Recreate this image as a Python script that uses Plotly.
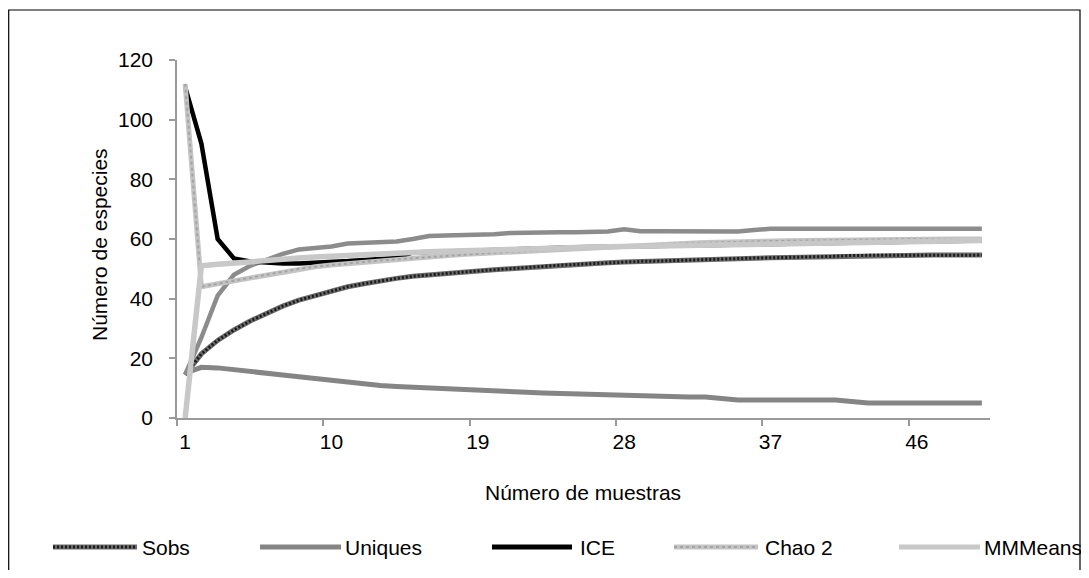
import plotly.graph_objects as go

muestras = list(range(1, 51))
tick_labels = [1, 10, 19, 28, 37, 46]

sobs = [14.5, 21.5, 26, 29.5, 32.5, 35, 37.5, 39.5, 41, 42.5,
        44, 45, 46, 46.8, 47.5, 48, 48.5, 49, 49.3, 49.7,
        50, 50.4, 50.8, 51.2, 51.5, 51.7, 52, 52.3, 52.5, 52.6,
        52.8, 53, 53.1, 53.3, 53.5, 53.6, 53.7, 53.8, 53.9, 54,
        54.2, 54.5, 54.5, 54.6, 54.6, 54.6, 54.6, 54.6, 54.6, 54.6]
uniques = [15, 17, 16.8, 16.3, 15.7, 15, 14.4, 13.8, 13.2, 12.5,
           11.8, 11.2, 10.9, 10.6, 10.3, 10, 9.7, 9.5, 9.2, 9,
           8.8, 8.6, 8.4, 8.2, 8, 7.8, 7.6, 7.4, 7.3, 7.2,
           7.1, 7, 7, 6.5, 6, 6, 6, 6, 6, 6,
           6, 5.5, 5, 5, 5, 5, 5, 5, 5, 5]
ice = [111, 92, 60, 53.5, 52.5, 52, 51.8, 51.8, 52, 52.3,
       52.6, 53, 53.3, 53.6, 55.5, 55.7, 55.9, 56.1, 56.3, 56.5,
       56.6, 56.8, 56.9, 57, 57.2, 57.3, 57.4, 57.5, 57.6, 57.8,
       57.9, 58, 58.1, 58.2, 58.3, 58.4, 58.5, 58.6, 58.7, 58.8,
       58.9, 59, 59.1, 59.2, 59.3, 59.3, 59.4, 59.4, 59.5, 59.5]
chao2 = [112, 44, 45, 46, 47, 48, 49, 50, 50.7, 51.3,
         51.8, 52.3, 52.8, 53.2, 53.6, 54, 54.4, 54.8, 55.1, 55.4,
         55.7, 56, 56.3, 56.6, 56.9, 57.2, 57.5, 57.8, 58, 58.2,
         58.4, 58.6, 58.8, 59, 59.1, 59.2, 59.3, 59.4, 59.5, 59.6,
         59.7, 59.8, 59.9, 60, 60, 60, 60, 60, 60, 60]
mmmeans = [0, 51, 51.5, 52, 52.5, 53, 53.3, 53.6, 54, 54.3,
           54.6, 54.9, 55.1, 55.3, 55.5, 55.7, 55.9, 56.1, 56.3, 56.5,
           56.6, 56.8, 56.9, 57, 57.2, 57.3, 57.4, 57.5, 57.6, 57.8,
           57.9, 58, 58.1, 58.2, 58.3, 58.4, 58.5, 58.6, 58.7, 58.8,
           58.9, 59, 59.1, 59.2, 59.3, 59.3, 59.4, 59.4, 59.5, 59.5]
serie_sup = [14.5, 27, 41, 48, 51, 53, 55, 56.5, 57, 57.5,
             58.5, 58.8, 58.8, 59.2, 60, 61, 61.2, 61.3, 61.4, 61.6,
             62, 62.2, 62.3, 62.3, 62.3, 62.4, 62.5, 63.3, 62.6, 62.6,
             62.6, 62.6, 62.6, 62.5, 62.5, 63, 63.4, 63.4, 63.4, 63.4,
             63.4, 63.4, 63.4, 63.4, 63.4, 63.4, 63.4, 63.4, 63.4, 63.4]

FONT = "Liberation Sans, Arial, sans-serif"
FS = 21

# the page has an 8px body margin; coordinates below are page pixels
OFF = 8
W, H = 1089 - 2 * OFF, 578 - 2 * OFF
L, R, T, B = 177 - OFF, 990 - OFF, 60 - OFF, 418 - OFF


def px(x):
    return (x - OFF - L) / (R - L)


def py(y):
    return (B - (y - OFF)) / (B - T)


fig = go.Figure()

fig.add_trace(go.Scatter(x=muestras, y=uniques, mode="lines",
                         line=dict(color="#858585", width=5), showlegend=False))
fig.add_trace(go.Scatter(x=muestras, y=sobs, mode="lines",
                         line=dict(color="#6a6a6a", width=5), showlegend=False))
fig.add_trace(go.Scatter(x=muestras, y=sobs, mode="lines",
                         line=dict(color="#1a1a1a", width=3, dash="2px,2px"), showlegend=False))
fig.add_trace(go.Scatter(x=muestras, y=serie_sup, mode="lines",
                         line=dict(color="#8c8c8c", width=4.5), showlegend=False))
fig.add_trace(go.Scatter(x=muestras, y=ice, mode="lines",
                         line=dict(color="#000000", width=4.5), showlegend=False))
fig.add_trace(go.Scatter(x=muestras, y=chao2, mode="lines",
                         line=dict(color="#c4c4c4", width=5), showlegend=False))
fig.add_trace(go.Scatter(x=muestras, y=chao2, mode="lines",
                         line=dict(color="#a4a4a4", width=2, dash="3px,3px"), showlegend=False))
fig.add_trace(go.Scatter(x=muestras, y=mmmeans, mode="lines",
                         line=dict(color="#c8c8c8", width=5.5), showlegend=False))

shapes = []
shapes.append(dict(type="rect", xref="paper", yref="paper",
                   x0=px(8.7), x1=px(1080), y0=py(590), y1=py(10),
                   line=dict(color="#000000", width=1.2), layer="below"))

legend_items = [
    ("Sobs", 53, 137, 140, "sobs"),
    ("Uniques", 260, 341, 343, "uniques"),
    ("ICE", 492, 572, 578, "ice"),
    ("Chao 2", 674, 758, 763, "chao"),
    ("MMMeans", 899, 980, 982, "mm"),
]
ly = py(547)
annotations = []
for name, x0, x1, tx, kind in legend_items:
    seg = dict(type="line", xref="paper", yref="paper", x0=px(x0), x1=px(x1), y0=ly, y1=ly)
    if kind == "sobs":
        shapes.append(dict(seg, line=dict(color="#6a6a6a", width=5)))
        shapes.append(dict(seg, line=dict(color="#1a1a1a", width=3, dash="2px,2px")))
    elif kind == "uniques":
        shapes.append(dict(seg, line=dict(color="#858585", width=5)))
    elif kind == "ice":
        shapes.append(dict(seg, line=dict(color="#000000", width=5)))
    elif kind == "chao":
        shapes.append(dict(seg, line=dict(color="#c4c4c4", width=5)))
        shapes.append(dict(seg, line=dict(color="#a4a4a4", width=2, dash="3px,3px")))
    else:
        shapes.append(dict(seg, line=dict(color="#c8c8c8", width=5)))
    annotations.append(dict(text=name, xref="paper", yref="paper", x=px(tx), y=ly,
                            xanchor="left", yanchor="middle", showarrow=False,
                            font=dict(family=FONT, size=FS, color="#000000")))

annotations.append(dict(text="Número de muestras", xref="paper", yref="paper",
                        x=px(583), y=py(492), xanchor="center", yanchor="middle",
                        showarrow=False, font=dict(family=FONT, size=FS, color="#000000")))
annotations.append(dict(text="Número de especies", xref="paper", yref="paper",
                        x=px(100), y=py(245), xanchor="center", yanchor="middle", textangle=-90,
                        showarrow=False, font=dict(family=FONT, size=FS, color="#000000")))

fig.update_layout(
    width=W, height=H,
    margin=dict(l=L, r=W - R, t=T, b=H - B, pad=0),
    paper_bgcolor="white", plot_bgcolor="white",
    showlegend=False,
    font=dict(family=FONT, size=FS, color="#000000"),
    shapes=shapes,
    annotations=annotations,
    xaxis=dict(range=[0.5, 50.5], tickmode="array", tickvals=tick_labels,
               ticktext=[str(t) for t in tick_labels], ticks="", showgrid=False,
               zeroline=False, showline=True, linecolor="#9a9a9a", linewidth=1.5,
               ticklabelstandoff=4,
               minor=dict(tickmode="array", tickvals=[0.5, 9.5, 18.5, 27.5, 36.5, 45.5],
                          ticks="outside", ticklen=6, tickcolor="#9a9a9a", tickwidth=1.5,
                          showgrid=False),
               tickfont=dict(family=FONT, size=FS, color="#000000")),
    yaxis=dict(range=[0, 120], tickmode="array", tickvals=[0, 20, 40, 60, 80, 100, 120],
               ticks="outside", ticklen=6, tickcolor="#9a9a9a", tickwidth=1.5,
               showgrid=False, zeroline=False, showline=True, linecolor="#9a9a9a", linewidth=1.5,
               ticklabelstandoff=12,
               tickfont=dict(family=FONT, size=FS, color="#000000")),
)

fig.write_html("out.html")
